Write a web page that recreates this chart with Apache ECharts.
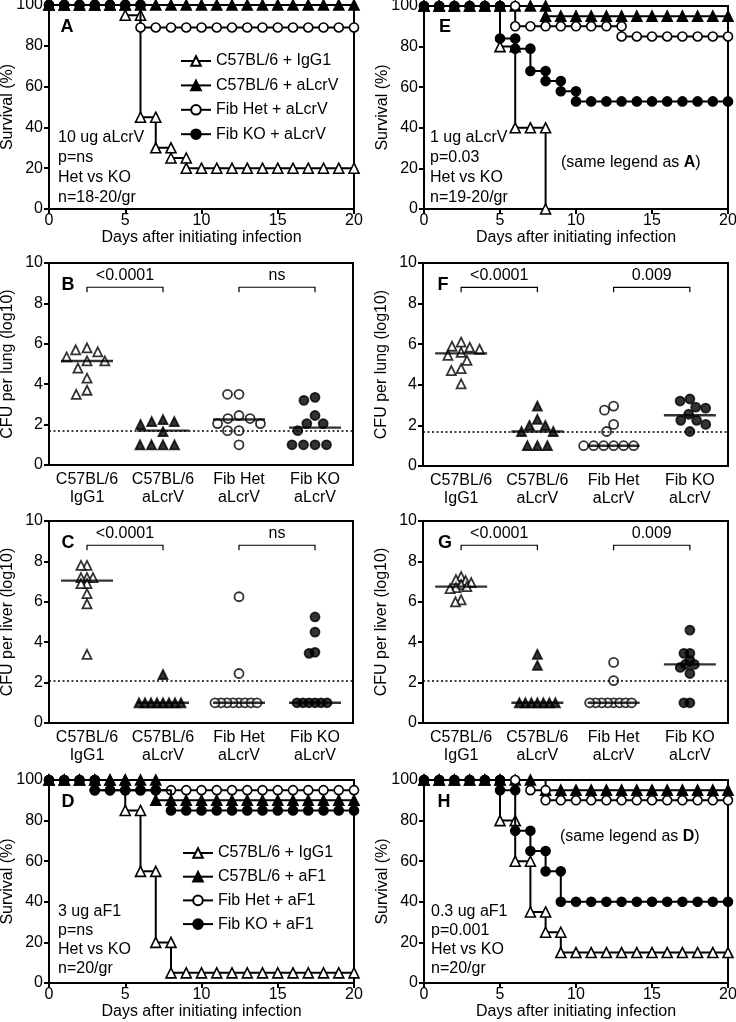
<!DOCTYPE html>
<html>
<head>
<meta charset="utf-8">
<script src="https://cdn.jsdelivr.net/npm/echarts@6/dist/echarts.min.js"></script>
<style>
html,body{margin:0;padding:0;background:#fff;}
#c{width:736px;height:1022px;}
</style>
</head>
<body>
<div id="c"></div>
<script>
// ---------------- DATA ----------------
const days = [0,1,2,3,4,5,6,7,8,9,10,11,12,13,14,15,16,17,18,19,20];
const namesLcrV = ['C57BL/6 + IgG1','C57BL/6 + aLcrV','Fib Het + aLcrV','Fib KO + aLcrV'];
const namesF1 = ['C57BL/6 + IgG1','C57BL/6 + aF1','Fib Het + aF1','Fib KO + aF1'];
const groupLabels = ['C57BL/6\nIgG1','C57BL/6\naLcrV','Fib Het\naLcrV','Fib KO\naLcrV'];

// Panel A: survival (%) by day, 10 ug aLcrV
const aIgG = [100,100,100,100,100,95,45,30,25,20,20,20,20,20,20,20,20,20,20,20,20];
const aCtl = [100,100,100,100,100,100,100,100,100,100,100,100,100,100,100,100,100,100,100,100,100];
const aHet = [100,100,100,100,100,100,89,89,89,89,89,89,89,89,89,89,89,89,89,89,89];
const aKO  = [100,100,100,100,100,100,100];
// Panel E: 1 ug aLcrV
const eIgG = [100,100,100,100,100,80,40,40,0];
const eCtl = [100,100,100,100,100,100,100,100,95,95,95,95,95,95,95,95,95,95,95,95,95];
const eHet = [100,100,100,100,100,100,90,90,90,90,90,90,90,85,85,85,85,85,85,85,85];
const eKO  = [100,100,100,100,100,84,79,68,63,58,53,53,53,53,53,53,53,53,53,53,53];
// Panel D: 3 ug aF1
const dIgG = [100,100,100,100,100,85,55,20,5,5,5,5,5,5,5,5,5,5,5,5,5];
const dCtl = [100,100,100,100,100,100,100,90,90,90,90,90,90,90,90,90,90,90,90,90,90];
const dHet = [100,100,100,95,95,95,95,95,95,95,95,95,95,95,95,95,95,95,95,95,95];
const dKO  = [100,100,100,95,95,95,95,95,85,85,85,85,85,85,85,85,85,85,85,85,85];
// Panel H: 0.3 ug aF1
const hIgG = [100,100,100,100,100,80,60,35,25,15,15,15,15,15,15,15,15,15,15,15,15];
const hCtl = [100,100,100,100,100,100,100,100,95,95,95,95,95,95,95,95,95,95,95,95,95];
const hHet = [100,100,100,100,100,100,100,95,90,90,90,90,90,90,90,90,90,90,90,90,90];
const hKO  = [100,100,100,100,100,95,75,65,55,40,40,40,40,40,40,40,40,40,40,40,40];
// days on which the pre-drop point carries no symbol in the original
const noMarkNone = [];
const dKOnoMark = [8];
const hHetNoMark = [7];
const hCtlNoMark = [8];

// Panel B: CFU per lung (log10), 10 ug
const bIgG = [5.8,5.7,5.6,5.35,5.15,5.15,4.8,4.3,3.7,3.5];
const bCtl = [2.25,2.15,2.15,2.0,1.65,1.0,1.0,1.0,1.0];
const bHet = [3.5,3.5,2.45,2.3,2.3,2.05,2.05,1.7,1.7,1.0];
const bKO  = [3.35,3.2,2.45,2.05,2.05,1.7,1.0,1.0,1.0,1.0];
const bMed = [5.15,1.7,2.25,1.85];
// Panel F: CFU per lung, 1 ug
const fIgG = [6.1,5.9,5.85,5.75,5.6,5.45,5.2,4.8,4.7,4.05];
const fCtl = [2.95,2.3,2.0,2.0,1.7,1.7,1.0,1.0,1.0];
const fHet = [2.95,2.75,2.05,1.7,1.0,1.0,1.0,1.0,1.0,1.0];
const fKO  = [3.3,3.2,2.9,2.85,2.55,2.25,2.25,2.05,1.7];
const fMed = [5.55,1.7,1.0,2.5];
// Panel C: CFU per liver, 10 ug
const cIgG = [7.8,7.8,7.2,7.2,7.2,6.9,6.9,6.4,5.9,3.4];
const cCtl = [2.4,1.0,1.0,1.0,1.0,1.0,1.0,1.0,1.0];
const cHet = [6.25,2.45,1.0,1.0,1.0,1.0,1.0,1.0,1.0,1.0];
const cKO  = [5.25,4.5,3.5,3.45,1.0,1.0,1.0,1.0,1.0,1.0];
const cMed = [7.05,1.0,1.0,1.0];
// Panel G: CFU per liver, 1 ug
const gIgG = [7.25,7.1,7.05,6.95,6.85,6.75,6.7,6.65,6.1,6.0];
const gCtl = [3.4,2.85,1.0,1.0,1.0,1.0,1.0,1.0,1.0];
const gHet = [3.0,2.1,1.0,1.0,1.0,1.0,1.0,1.0,1.0,1.0];
const gKO  = [4.6,3.45,3.45,3.1,2.9,2.9,2.75,2.45,1.0,1.0];
const gMed = [6.75,1.0,1.0,2.9];

const lodLung = 1.7;
const lodLiver = 2.1;
const bracketPairs = [[0,1],[2,3]];
const bracketLevel = 8.8;
const pB = ['<0.0001','ns'];
const pF = ['<0.0001','0.009'];
const pC = ['<0.0001','ns'];
const pG = ['<0.0001','0.009'];

// ---------------- BUILD ----------------
const FONT = '"Liberation Sans", Arial, Helvetica, sans-serif';
const MARK = [
  {symbol:'triangle', fill:'#ffffff'},
  {symbol:'triangle', fill:'#000000'},
  {symbol:'circle',   fill:'#ffffff'},
  {symbol:'circle',   fill:'#000000'}
];

// staircase points: (day, survival) plus the top corner of each drop
function stepPoints(vals, noMark){
  const pts = [[days[0], vals[0]]];
  for (let d = 1; d < vals.length; d++){
    if (vals[d] !== vals[d-1] && noMark.indexOf(days[d]) < 0) pts.push([days[d], vals[d-1]]);
    pts.push([days[d], vals[d]]);
  }
  return pts;
}

const grids = [], xAxes = [], yAxes = [], series = [], legends = [];
const axisLineStyle = {show:true, onZero:false, lineStyle:{color:'#000', width:2}};
const tickStyle = {show:true, length:5, inside:false, lineStyle:{color:'#000', width:2}};
const labelBase = {color:'#000', fontFamily:FONT, fontSize:16};

function addGrid(box){
  const gi = grids.length;
  grids.push(Object.assign({show:true, borderColor:'#000', borderWidth:2, backgroundColor:'transparent',
    outerBoundsMode:'none', containLabel:false}, box));
  return gi;
}

function addSurvival(box, groups, skips, names, legendBox){
  const gi = addGrid(box);
  const xi = xAxes.length, yi = yAxes.length;
  xAxes.push({type:'value', gridIndex:gi, min:0, max:20, interval:5,
    name:'Days after initiating infection', nameLocation:'middle', nameGap:21, nameMoveOverlap:false,
    nameTextStyle:{color:'#000', fontFamily:FONT, fontSize:16},
    axisLine:axisLineStyle, axisTick:tickStyle, splitLine:{show:false},
    axisLabel:Object.assign({margin:4}, labelBase)});
  yAxes.push({type:'value', gridIndex:gi, min:0, max:100, interval:20,
    name:'Survival (%)', nameLocation:'middle', nameGap:33, nameMoveOverlap:false,
    nameTextStyle:{color:'#000', fontFamily:FONT, fontSize:16},
    axisLine:axisLineStyle, axisTick:tickStyle, splitLine:{show:false},
    axisLabel:Object.assign({margin:6}, labelBase)});
  groups.forEach((vals, k) => {
    series.push({type:'line', name:names[k], xAxisIndex:xi, yAxisIndex:yi, step:'end',
      data:stepPoints(vals, skips[k]), symbol:MARK[k].symbol, symbolSize: k < 2 ? 10 : 9,
      showSymbol:true, showAllSymbol:true, clip:false,
      lineStyle:{color:'#000', width:2},
      itemStyle:{color:MARK[k].fill, borderColor:'#000', borderWidth:1.6},
      emphasis:{disabled:true}, z:2+k});
  });
  if (legendBox){
    legends.push(Object.assign({orient:'vertical', data:names, selectedMode:false,
      itemWidth:30, itemHeight:12, padding:0,
      textStyle:{color:'#000', fontFamily:FONT, fontSize:16}}, legendBox));
  }
}

function addDots(box, groups, medians, lod, pLabels, yName, margin){
  const gi = addGrid(box);
  const xi = xAxes.length, yi = yAxes.length;
  xAxes.push({type:'category', gridIndex:gi, data:groupLabels,
    jitter:66, jitterOverlap:false, jitterMargin:margin,
    axisLine:axisLineStyle, axisTick:{show:false}, splitLine:{show:false},
    axisLabel:Object.assign({}, labelBase, {fontSize:16, lineHeight:18, margin:6, interval:0})});
  xAxes.push({type:'category', gridIndex:gi, data:groupLabels, show:false});
  yAxes.push({type:'value', gridIndex:gi, min:0, max:10, interval:2,
    name:yName, nameLocation:'middle', nameGap:33, nameMoveOverlap:false,
    nameTextStyle:{color:'#000', fontFamily:FONT, fontSize:16},
    axisLine:axisLineStyle, axisTick:tickStyle, splitLine:{show:false},
    axisLabel:Object.assign({margin:6}, labelBase)});
  groups.forEach((vals, k) => {
    const s = {type:'scatter', xAxisIndex:xi, yAxisIndex:yi,
      data:vals.map(v => [k, v]), symbol:MARK[k].symbol, symbolSize:9,
      itemStyle:{color:MARK[k].fill, borderColor:'#000', borderWidth:1.8},
      emphasis:{disabled:true}, z:3};
    if (k === 0){
      s.markLine = {silent:true, symbol:'none', label:{show:false}, animation:false,
        lineStyle:{type:[2,2.5], color:'#000', width:1.6},
        data:[{yAxis:lod}]};
    }
    series.push(s);
  });
  series.push({type:'scatter', xAxisIndex:xi+1, yAxisIndex:yi,
    data:medians.map((m, k) => [k, m]), symbol:'rect', symbolSize:[52, 2.4],
    itemStyle:{color:'#000'}, emphasis:{disabled:true}, z:6});
  series.push({type:'custom', xAxisIndex:xi, yAxisIndex:yi, silent:true, z:6,
    data:bracketPairs.map(p => [p[0], p[1], bracketLevel]),
    encode:{x:[0,1], y:2},
    renderItem:function(params, api){
      const p1 = api.coord([api.value(0), api.value(2)]);
      const p2 = api.coord([api.value(1), api.value(2)]);
      const t = 5;
      return {type:'group', children:[
        {type:'polyline', shape:{points:[[p1[0],p1[1]+t],[p1[0],p1[1]],[p2[0],p2[1]],[p2[0],p2[1]+t]]},
          style:{stroke:'#000', lineWidth:1.2, fill:null}},
        {type:'text', x:(p1[0]+p2[0])/2, y:p1[1]-12,
          style:{text:pLabels[params.dataIndex], align:'center', verticalAlign:'middle',
            font:'16px ' + FONT, fill:'#000'}}
      ]};
    }});
}

const N0 = noMarkNone;
addSurvival({left:49, top:5, width:305, height:204}, [aIgG,aCtl,aHet,aKO], [N0,N0,N0,N0], namesLcrV, {left:180, top:53, itemGap:8.4});
addSurvival({left:424, top:6, width:304, height:203}, [eIgG,eCtl,eHet,eKO], [N0,N0,N0,N0], namesLcrV, null);
addDots({left:49, top:263, width:304, height:202}, [bIgG,bCtl,bHet,bKO], bMed, lodLung, pB, 'CFU per lung (log10)', 2.5);
addDots({left:423, top:263, width:305, height:203}, [fIgG,fCtl,fHet,fKO], fMed, lodLung, pF, 'CFU per lung (log10)', 1.0);
addDots({left:49, top:521, width:304, height:202}, [cIgG,cCtl,cHet,cKO], cMed, lodLiver, pC, 'CFU per liver (log10)', -3);
addDots({left:423, top:521, width:305, height:202}, [gIgG,gCtl,gHet,gKO], gMed, lodLiver, pG, 'CFU per liver (log10)', -3);
addSurvival({left:49, top:780, width:305, height:203}, [dIgG,dCtl,dHet,dKO], [N0,N0,N0,dKOnoMark], namesF1, {left:182, top:845, itemGap:7.7});
addSurvival({left:424, top:780, width:304, height:203}, [hIgG,hCtl,hHet,hKO], [N0,hCtlNoMark,hHetNoMark,N0], namesF1, null);

function txt(x, y, text, extra){
  return {type:'text', x:x, y:y, silent:true, z:50,
    style:Object.assign({text:text, fill:'#000', font:'16px ' + FONT}, extra || {})};
}
const letterStyle = {font:'bold 18px ' + FONT, align:'center', verticalAlign:'middle'};
const rich = {a:{fontFamily:FONT, fontSize:16, color:'#000'}, b:{fontFamily:FONT, fontSize:16, fontWeight:'bold', color:'#000'}};
const graphics = [
  txt(67, 27, 'A', letterStyle), txt(68, 285, 'B', letterStyle), txt(68, 543, 'C', letterStyle), txt(68, 802, 'D', letterStyle),
  txt(445, 27, 'E', letterStyle), txt(443, 285, 'F', letterStyle), txt(445, 543, 'G', letterStyle), txt(444, 802, 'H', letterStyle),
  txt(58, 127, '10 ug aLcrV\np=ns\nHet vs KO\nn=18-20/gr', {lineHeight:20.3, verticalAlign:'top'}),
  txt(430, 127, '1 ug aLcrV\np=0.03\nHet vs KO\nn=19-20/gr', {lineHeight:20.3, verticalAlign:'top'}),
  txt(58, 902, '3 ug aF1\np=ns\nHet vs KO\nn=20/gr', {lineHeight:19, verticalAlign:'top'}),
  txt(431, 902, '0.3 ug aF1\np=0.001\nHet vs KO\nn=20/gr', {lineHeight:19, verticalAlign:'top'}),
  {type:'text', x:561, y:163, silent:true, z:50, style:{text:'{a|(same legend as }{b|A}{a|)}', rich:rich, verticalAlign:'middle'}},
  {type:'text', x:560, y:837, silent:true, z:50, style:{text:'{a|(same legend as }{b|D}{a|)}', rich:rich, verticalAlign:'middle'}}
];

const chart = echarts.init(document.getElementById('c'), null, {renderer:'canvas'});
chart.setOption({
  animation:false,
  backgroundColor:'#fff',
  textStyle:{fontFamily:FONT},
  grid:grids, xAxis:xAxes, yAxis:yAxes, series:series, legend:legends,
  graphic:graphics, tooltip:{show:false}
});
</script>
</body>
</html>
